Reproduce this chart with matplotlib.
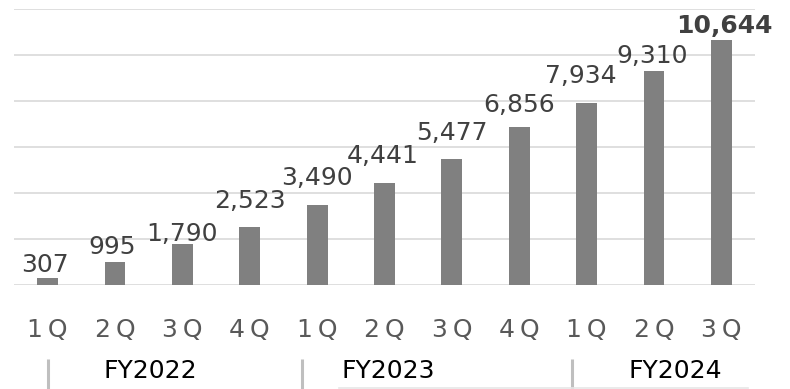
import matplotlib.pyplot as plt
from matplotlib.transforms import blended_transform_factory

quarters = ['1Q', '2Q', '3Q', '4Q', '1Q', '2Q', '3Q', '4Q', '1Q', '2Q', '3Q']
values = [307, 995, 1790, 2523, 3490, 4441, 5477, 6856, 7934, 9310, 10644]
years = ['FY2022', 'FY2023', 'FY2024']

# hand-placed label offsets (points) above each bar
label_dy = [4, 6, 2, 14, 14, 14, 14, 11, 14, 6, 5]
label_dx = [-2, -2, 0, 0, 0, -1, 0, 0, -4, -1, 2]

W, H = 790, 389
fig = plt.figure(figsize=(W / 100, H / 100), dpi=100)
ax = fig.add_axes([14 / W, (H - 285) / H, 741 / W, 276 / H])

x = list(range(len(values)))
ax.bar(x, values, width=0.31, color='#808080', zorder=2)

ax.set_xlim(-0.5, len(values) - 0.5)
ax.set_ylim(0, 12000)
ax.set_yticks(range(0, 12001, 2000))
ax.yaxis.grid(True, color='#d9d9d9', linewidth=1.2, zorder=0)
ax.set_axisbelow(True)
ax.tick_params(axis='y', left=False, labelleft=False)
for s in ax.spines.values():
    s.set_visible(False)

ax.set_xticks(x)
ax.set_xticklabels([q[0] + '\u2009' + q[1] for q in quarters],
                   fontsize=18, color='#595959')
ax.tick_params(axis='x', length=0, pad=24)

for i, v in enumerate(values):
    last = i == len(values) - 1
    ax.annotate(f'{v:,}', (i, v), xytext=(label_dx[i], label_dy[i]),
                textcoords='offset points', ha='center', va='baseline',
                fontsize=18, color='#404040',
                fontweight='bold' if last else 'normal')

# fiscal year row under the quarter labels
tr = blended_transform_factory(ax.transData, ax.transAxes)
year_x = [1.53, 5.05, 9.31]
sep_x = [0.0, 3.77, 7.79]
for yx, name in zip(year_x, years):
    ax.text(yx, -0.312, name, transform=tr, ha='center', va='center',
            fontsize=18, color='black', clip_on=False)
for sx in sep_x:
    ax.plot([sx, sx], [-0.268, -0.38], transform=tr, color='#bfbfbf',
            linewidth=2.2, clip_on=False, solid_capstyle='butt')
ax.plot([4.32, 10.4], [-0.373, -0.373], transform=tr, color='#e6e6e6',
        linewidth=1.2, clip_on=False)

fig.savefig('out.png', dpi=100)
